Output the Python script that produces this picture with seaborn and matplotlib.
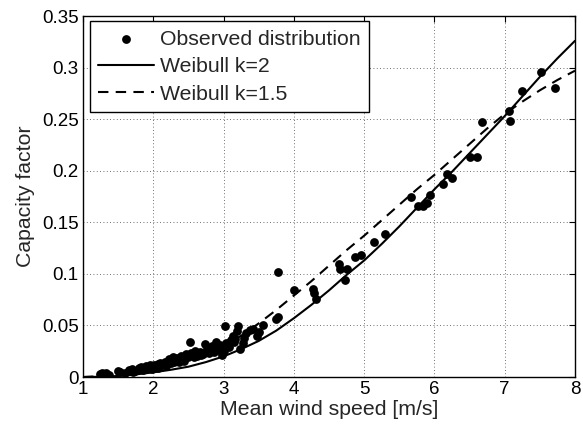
import matplotlib
matplotlib.use("Agg")
import matplotlib.pyplot as plt
import seaborn as sns
import pandas as pd

# Observed distribution
obs_x = [1.24, 1.27, 1.30, 1.33, 1.37, 1.50, 1.53, 1.66, 1.69, 1.71, 1.74, 1.80, 1.83, 1.86,
         1.90, 1.93, 1.96, 1.98, 2.01, 2.04, 2.07, 2.10, 2.13, 2.16, 2.19, 2.22, 2.25, 2.28,
         2.31, 2.34, 2.37, 2.40, 2.43, 2.46, 2.49, 2.52, 2.53, 2.56, 2.59, 2.62, 2.66, 2.70,
         2.74, 2.77, 2.80, 2.83, 2.86, 2.89, 2.92, 2.95, 2.98, 3.00, 3.02, 3.04, 3.07, 3.10,
         3.13, 3.16, 3.19, 3.21, 3.24, 3.27, 3.32, 3.37, 3.42, 3.47, 3.51, 3.56, 3.74, 3.78,
         3.78, 4.00, 4.27, 4.29, 4.32, 4.64, 4.65, 4.73, 4.75, 4.87, 4.95, 5.14, 5.29, 5.67,
         5.77, 5.84, 5.89, 5.93, 6.12, 6.18, 6.25, 6.51, 6.61, 6.68, 7.06, 7.08, 7.24, 7.52,
         7.71,
         1.60, 1.78, 1.88, 2.06, 2.18, 2.29, 2.44, 2.58, 2.68, 2.79, 2.91, 3.06, 3.15, 3.29]
obs_y = [0.003, 0.004, 0.003, 0.004, 0.002, 0.006, 0.005, 0.007, 0.008, 0.005, 0.006, 0.009, 0.010, 0.007,
         0.011, 0.010, 0.012, 0.008, 0.012, 0.011, 0.009, 0.014, 0.012, 0.015, 0.013, 0.017, 0.014, 0.019,
         0.016, 0.018, 0.015, 0.020, 0.018, 0.022, 0.019, 0.034, 0.023, 0.021, 0.025, 0.020, 0.024, 0.022,
         0.032, 0.027, 0.025, 0.030, 0.024, 0.034, 0.028, 0.031, 0.021, 0.025, 0.049, 0.033, 0.029, 0.036,
         0.040, 0.037, 0.045, 0.049, 0.027, 0.033, 0.043, 0.046, 0.047, 0.040, 0.044, 0.050, 0.056, 0.058,
         0.102, 0.084, 0.085, 0.081, 0.076, 0.110, 0.105, 0.094, 0.105, 0.116, 0.118, 0.131, 0.139, 0.175,
         0.166, 0.166, 0.169, 0.176, 0.187, 0.197, 0.193, 0.213, 0.213, 0.247, 0.258, 0.248, 0.277, 0.296,
         0.280,
         0.004, 0.007, 0.009, 0.013, 0.011, 0.015, 0.016, 0.019, 0.021, 0.023, 0.026, 0.031, 0.034, 0.038]

# Weibull curves
curve_x = [1.0, 1.25, 1.5, 1.75, 2.0, 2.25, 2.5, 2.75, 3.0, 3.25, 3.5, 3.75, 4.0, 4.25, 4.5,
           4.75, 5.0, 5.25, 5.5, 5.75, 6.0, 6.25, 6.5, 6.75, 7.0, 7.25, 7.5, 7.75, 8.0]
k2_y = [0.0, 0.0002, 0.001, 0.0025, 0.0045, 0.007, 0.010, 0.0145, 0.020, 0.027, 0.035, 0.045, 0.057,
        0.070, 0.084, 0.099, 0.113, 0.129, 0.146, 0.164, 0.182, 0.199, 0.217, 0.235, 0.253, 0.272,
        0.291, 0.309, 0.326]
k15_y = [0.0, 0.0008, 0.002, 0.0045, 0.008, 0.012, 0.017, 0.023, 0.030, 0.040, 0.052, 0.065, 0.079,
         0.093, 0.108, 0.123, 0.137, 0.152, 0.167, 0.182, 0.196, 0.211, 0.226, 0.241, 0.255, 0.267,
         0.278, 0.288, 0.297]

x_ticks = [1, 2, 3, 4, 5, 6, 7, 8]
y_ticks = [0, 0.05, 0.1, 0.15, 0.2, 0.25, 0.3, 0.35]
y_tick_labels = ["0", "0.05", "0.1", "0.15", "0.2", "0.25", "0.3", "0.35"]

sns.set_style("white")
plt.rcParams["font.family"] = ["Liberation Sans", "DejaVu Sans"]
FS_TICK = 13.5
FS_LABEL = 15.3

fig = plt.figure(figsize=(5.83, 4.32), dpi=100)
ax = fig.add_axes([0.1424, 0.1273, 0.8439, 0.8356])

obs = pd.DataFrame({"x": obs_x, "y": obs_y})
curves = pd.DataFrame({"x": curve_x, "k2": k2_y, "k15": k15_y})

sns.scatterplot(data=obs, x="x", y="y", ax=ax, color="black", s=40, linewidth=0,
                label="Observed distribution", zorder=3)
sns.lineplot(data=curves, x="x", y="k2", ax=ax, color="black", linewidth=1.5,
             label="Weibull k=2", zorder=2)
sns.lineplot(data=curves, x="x", y="k15", ax=ax, color="black", linewidth=1.5,
             linestyle=(0, (5, 3.5)), label="Weibull k=1.5", zorder=2)

ax.set_xlim(1, 8)
ax.set_ylim(0, 0.35)
ax.set_xticks(x_ticks)
ax.set_xticklabels([str(v) for v in x_ticks])
ax.set_yticks(y_ticks)
ax.set_yticklabels(y_tick_labels)
ax.tick_params(direction="in", length=4, width=0.8, top=True, right=True,
               labelsize=FS_TICK, colors="black", pad=3)
ax.grid(True, linestyle=(0, (1, 3)), color="black", linewidth=0.6, alpha=0.75)
for sp in ax.spines.values():
    sp.set_color("black")
    sp.set_linewidth(1.0)

ax.set_xlabel("Mean wind speed [m/s]", fontsize=FS_LABEL, labelpad=1)
ax.set_ylabel("Capacity factor", fontsize=FS_LABEL, labelpad=5)

leg = ax.legend(loc="upper left", bbox_to_anchor=(0.014, 0.986), borderaxespad=0,
                fontsize=FS_LABEL, frameon=True, fancybox=False, framealpha=1,
                edgecolor="black", handlelength=2.6, handletextpad=0.3,
                labelspacing=0.4, borderpad=0.4, markerscale=1.0)
leg.get_frame().set_linewidth(1.0)

fig.savefig("out.png", dpi=100)
